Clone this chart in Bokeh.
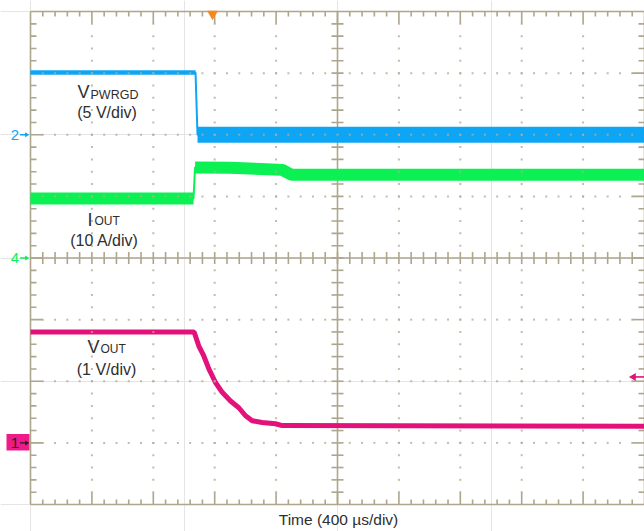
import numpy as np
from bokeh.plotting import figure
from bokeh.models import Range1d
from bokeh.core.properties import value
from bokeh.embed import file_html
from bokeh.resources import INLINE

# ---------------- data ----------------
# Channel 2: V_PWRGD, 5 V/div
time_pwrgd_us = [0, 1075, 1088, 4000]
v_pwrgd = [5.05, 5.05, 0.0, 0.0]

# Channel 4: I_OUT, 10 A/div
time_iout_us = [0, 1062, 1072, 1300, 1500, 1640, 1700, 4000]
i_out = [9.65, 9.65, 14.7, 14.65, 14.45, 14.3, 13.5, 13.5]

# Channel 1: V_OUT, 1 V/div
time_vout_us = [0, 1066, 1096, 1129, 1162, 1205, 1249, 1303, 1357, 1401,
                1444, 1509, 1596, 1640, 4000]
v_out = [1.80, 1.80, 1.575, 1.41, 1.20, 0.98, 0.82, 0.68, 0.57, 0.44,
         0.36, 0.33, 0.31, 0.28, 0.27]

# scope settings
time_per_div_us = 400
n_div_x = 10
n_div_y = 8
ch2_scale, ch2_offset_div = 5.0, 2.0     # V/div
ch4_scale, ch4_offset_div = 10.0, 0.0    # A/div
ch1_scale, ch1_offset_div = 1.0, -3.0    # V/div
trigger_time_us = 1186
trigger_level_v = 1.07

# ---------------- styles ----------------
BLUE = "#0ea6f4"
GREEN = "#0bf052"
PINK = "#e3127a"
GRID = "#aea58d"
DOT = "#b3ab95"
TXT = "#2e2e2e"
FONT = value("Liberation Sans")
TEXT_SHIFT = 5.5   # px upward correction for text placement

PX_X = 61.4     # pixels per horizontal division
PX_Y = 61.625   # pixels per vertical division
X_MAX = n_div_x * time_per_div_us

W, H = 644, 531
x0 = -30 / PX_X * time_per_div_us
y_top = 257.5 / PX_Y
y_bot = (257.5 - H) / PX_Y

p = figure(width=W, height=H, x_range=Range1d(x0, x0 + W / PX_X * time_per_div_us),
           y_range=Range1d(y_bot, y_top), output_backend="svg",
           toolbar_location=None, x_axis_location=None, y_axis_location=None,
           min_border=0, outline_line_color=None, background_fill_color="white")


def sx(px):
    """reference pixel x -> data x (annotations only)"""
    return (px - 30) / PX_X * time_per_div_us


def sy(py):
    return (257.5 - py) / PX_Y


def dxp(n):
    return n / PX_X * time_per_div_us


def dyp(n):
    return n / PX_Y


half = n_div_y / 2
minor_x = np.arange(0, X_MAX + 1e-6, time_per_div_us / 5)
minor_y = np.round(np.arange(-half, half + 1e-6, 0.2), 6)

# ---------------- graticule lines and ticks ----------------
xs0, ys0, xs1, ys1 = [], [], [], []


def seg(a, b, c, d):
    xs0.append(a); ys0.append(b); xs1.append(c); ys1.append(d)


seg(0, -half, 0, half)
seg(X_MAX, -half, X_MAX, half)
seg(0, half, X_MAX, half)
seg(0, -half, X_MAX, -half)
seg(X_MAX / 2, -half, X_MAX / 2, half)
seg(0, 0, X_MAX, 0)

for i, x in enumerate(minor_x):
    if i == 0 or i == len(minor_x) - 1:
        continue
    L = 12 if i % 5 == 0 else 5
    seg(x, half, x, half - dyp(L))
    seg(x, -half, x, -half + dyp(L))
    seg(x, -dyp(6), x, dyp(6))
for j, y in enumerate(minor_y):
    if j == 0 or j == len(minor_y) - 1:
        continue
    L = 12 if j % 5 == 0 else 6
    seg(0, y, dxp(L), y)
    seg(X_MAX, y, X_MAX - dxp(L), y)
    seg(X_MAX / 2 - dxp(6), y, X_MAX / 2 + dxp(6), y)

p.segment(x0=xs0, y0=ys0, x1=xs1, y1=ys1, line_color=GRID, line_width=1.6)

# ---------------- traces ----------------
t_i = np.array(time_iout_us, float)
y_i = ch4_offset_div + np.array(i_out) / ch4_scale
p.line(t_i, y_i, line_color=GREEN, line_width=2)
pre_i = t_i <= 1062
p.line(t_i[pre_i], y_i[pre_i], line_color=GREEN, line_width=12)
p.line(t_i[~pre_i], y_i[~pre_i], line_color=GREEN, line_width=12)

t_p = np.array(time_pwrgd_us, float)
y_p = ch2_offset_div + np.array(v_pwrgd) / ch2_scale
p.line(t_p, y_p, line_color=BLUE, line_width=2)
pre_p = t_p <= 1075
p.line(t_p[pre_p], y_p[pre_p], line_color=BLUE, line_width=4.5)
p.line(t_p[~pre_p], y_p[~pre_p], line_color=BLUE, line_width=16)

t_v = np.array(time_vout_us, float)
y_v = ch1_offset_div + np.array(v_out) / ch1_scale
p.line(t_v, y_v, line_color=PINK, line_width=5)

# ---------------- dotted grid (on top, light) ----------------
dx, dy = [], []
for k in range(1, n_div_x):
    if k * 2 == n_div_x:
        continue
    for y in minor_y[1:-1]:
        dx.append(k * time_per_div_us); dy.append(y)
for k in range(-int(half) + 1, int(half)):
    if k == 0:
        continue
    for x in minor_x[1:-1]:
        dx.append(x); dy.append(k)
p.scatter(dx, dy, marker="square", size=2, fill_color=DOT, line_color=None, alpha=0.8)

# ---------------- markers ----------------
p.scatter([trigger_time_us], [half - dyp(2.5)], marker="inverted_triangle", size=11,
          fill_color="#f7891c", line_color=None)
ty = ch1_offset_div + trigger_level_v / ch1_scale
p.segment(x0=[sx(633)], y0=[ty], x1=[X_MAX], y1=[ty], line_color=PINK, line_width=1.6)
p.scatter([sx(633)], [ty], marker="triangle", angle=np.pi / 2, size=8,
          fill_color=PINK, line_color=None)

p.quad(left=[sx(6)], right=[sx(29)], top=[ch1_offset_div + dyp(9)],
       bottom=[ch1_offset_div - dyp(7.5)], fill_color="#ee1a8a", line_color=None)
for lab, off, col in [("2", ch2_offset_div, BLUE), ("4", ch4_offset_div, GREEN),
                      ("1", ch1_offset_div, "#222222")]:
    p.text([sx(14.5)], [off - dyp(5.5) + dyp(TEXT_SHIFT)], text=[lab], text_font=FONT,
           text_font_size="15px", text_align="center", text_baseline="alphabetic",
           text_color=col)
    p.segment(x0=[sx(19.5)], y0=[off], x1=[sx(26)], y1=[off], line_color=col, line_width=1.3)
    p.scatter([sx(26)], [off], marker="triangle", angle=-np.pi / 2, size=5,
              fill_color=col, line_color=None)


# ---------------- labels ----------------
def label(px, py, s, size, align="left"):
    p.text([sx(px)], [sy(py - TEXT_SHIFT)], text=[s], text_font=FONT, text_font_size=size,
           text_align=align, text_baseline="alphabetic", text_color=TXT)


label(77, 97, "V", "18px")
label(90, 100, "PWRGD", "12.5px")
label(106.5, 117, "(5 V/div)", "16px", "center")

label(87, 225, "I", "18px")
label(94, 226, "OUT", "12px")
label(104, 245.5, "(10 A/div)", "16px", "center")

label(87, 352, "V", "18px")
label(100, 354, "OUT", "12px")
label(106, 374.5, "(1 V/div)", "16px", "center")

label(338, 524, "Time (400 µs/div)", "15.5px", "center")

open("out.html", "w").write(file_html(p, INLINE))
